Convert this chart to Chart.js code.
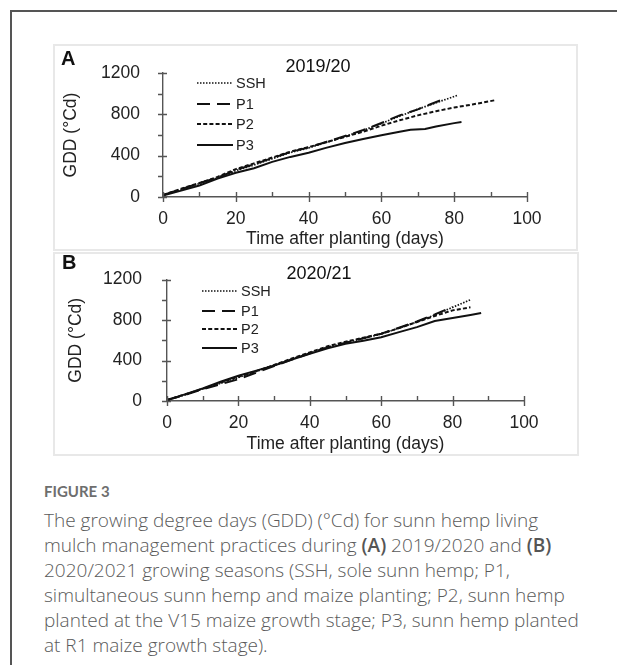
<!DOCTYPE html>
<html>
<head>
<meta charset="utf-8">
<script src="https://cdn.jsdelivr.net/npm/chart.js@4.4.1/dist/chart.umd.min.js"></script>
<style>
  html, body { margin:0; padding:0; background:#fff; }
  body { width:617px; height:666px; position:relative; overflow:hidden; }
  .frame { position:absolute; left:10px; top:10px; width:620px; height:655px;
           border-top:2px solid #555; border-left:2px solid #555; box-sizing:border-box; }
  .panel { position:absolute; box-shadow: inset 0 0 0 2px #e8e8e8; }
  .panel canvas { position:absolute; left:0; top:0; }
  .caphead { position:absolute; left:44px; top:481px; font-family:Lato, "Open Sans", sans-serif;
             font-size:15px; line-height:20px; color:#6e6e6e; font-weight:bold; }
  .cap { position:absolute; left:44px; top:508px; font-family:"Open Sans", Lato, sans-serif;
         font-size:19px; line-height:25px; color:#5a5a5a; white-space:nowrap; font-weight:300; }
  .cap b { color:#555; font-weight:600; }
</style>
</head>
<body>
<div class="frame"></div>
<div class="panel" id="pA" style="left:53px;top:44px;width:525px;height:207px;"><canvas id="cA" width="525" height="207"></canvas></div>
<div class="panel" id="pB" style="left:53px;top:252px;width:526px;height:204px;"><canvas id="cB" width="526" height="204"></canvas></div>
<div class="caphead">FIGURE 3</div>
<div class="cap">The growing degree days (GDD) (°Cd) for sunn hemp living<br>mulch management practices during <b>(A)</b> 2019/2020 and <b>(B)</b><br>2020/2021 growing seasons (SSH, sole sunn hemp; P1,<br>simultaneous sunn hemp and maize planting; P2, sunn hemp<br>planted at the V15 maize growth stage; P3, sunn hemp planted<br>at R1 maize growth stage).</div>
<script>
// ---------- DATA ----------
const seriesLabels = ['SSH', 'P1', 'P2', 'P3'];
const yTickValues = [0, 200, 400, 600, 800, 1000, 1200];
const yTickLabels = ['0', '', '400', '', '800', '', '1200'];
const xTickValues = [0, 10, 20, 30, 40, 50, 60, 70, 80, 90, 100];
const xTickLabels = ['0', '', '20', '', '40', '', '60', '', '80', '', '100'];

// Panel A: 2019/20
const daysA_SSH = [0, 5, 10, 15, 20, 25, 30, 35, 40, 45, 50, 55, 60, 65, 70, 75, 81];
const gddA_SSH  = [20, 70, 130, 185, 255, 310, 370, 430, 475, 530, 585, 645, 712, 782, 850, 912, 985];
const daysA_P1  = [0, 5, 10, 15, 20, 25, 30, 35, 40, 45, 50, 55, 60, 65, 70, 74, 77];
const gddA_P1   = [20, 75, 135, 185, 262, 316, 376, 436, 480, 535, 590, 648, 716, 790, 848, 905, 945];
const daysA_P2  = [0, 5, 10, 15, 20, 25, 30, 35, 40, 45, 50, 55, 60, 65, 70, 75, 80, 85, 91];
const gddA_P2   = [20, 80, 135, 195, 270, 325, 382, 438, 482, 532, 582, 632, 690, 742, 790, 830, 866, 895, 935];
const daysA_P3  = [0, 5, 10, 15, 20, 25, 30, 35, 40, 45, 50, 55, 60, 65, 68, 72, 75, 80, 82];
const gddA_P3   = [15, 62, 112, 178, 235, 278, 340, 388, 428, 478, 522, 562, 598, 632, 650, 658, 682, 715, 725];

// Panel B: 2020/21
const daysB_SSH = [0, 5, 10, 15, 20, 25, 30, 35, 40, 45, 50, 55, 60, 65, 70, 75, 80, 85];
const gddB_SSH  = [10, 60, 120, 175, 232, 292, 352, 415, 475, 530, 575, 618, 662, 720, 780, 850, 925, 1000];
const daysB_P1  = [0, 5, 10, 15, 20, 25, 30, 35, 40, 45, 50, 55, 60, 65, 70, 75, 80];
const gddB_P1   = [10, 60, 115, 165, 215, 280, 345, 410, 470, 530, 575, 620, 665, 725, 785, 855, 930];
const daysB_P2  = [0, 5, 10, 15, 20, 25, 30, 35, 40, 45, 50, 55, 60, 65, 70, 75, 80, 85];
const gddB_P2   = [10, 65, 120, 180, 240, 295, 355, 420, 480, 540, 585, 625, 665, 720, 780, 840, 895, 925];
const daysB_P3  = [0, 5, 10, 15, 20, 25, 30, 35, 40, 45, 50, 55, 60, 65, 70, 75, 80, 85, 88];
const gddB_P3   = [10, 65, 125, 190, 250, 300, 350, 410, 465, 520, 565, 595, 630, 680, 730, 790, 820, 850, 870];

// ---------- STYLE ----------
const FONT = '"Liberation Sans", Arial, Helvetica, sans-serif';
const styles = [
  { borderDash: [1.5, 1.5], borderWidth: 1.7 },
  { borderDash: [13, 7],   borderWidth: 2 },
  { borderDash: [4, 2.2],  borderWidth: 2 },
  { borderDash: [],        borderWidth: 2 }
];

function pairs(xs, ys) { return xs.map((x, i) => ({ x: x, y: ys[i] })); }

function makeDatasets(list) {
  return list.map((s, i) => ({
    label: seriesLabels[i],
    data: pairs(s[0], s[1]),
    borderColor: '#111',
    backgroundColor: '#111',
    borderWidth: styles[i].borderWidth,
    borderDash: styles[i].borderDash,
    pointRadius: 0,
    tension: 0,
    fill: false
  }));
}

const decor = {
  id: 'decor',
  afterDraw(chart, args, o) {
    const ctx = chart.ctx;
    const xs = chart.scales.x, ys = chart.scales.y;
    const ca = chart.chartArea;
    ctx.save();
    ctx.strokeStyle = '#555';
    ctx.lineWidth = 1.4;
    ctx.setLineDash([]);
    ctx.beginPath();
    yTickValues.forEach((v, i) => {
      const py = Math.round(ys.getPixelForValue(v)) + 0.5;
      const major = yTickLabels[i] !== '';
      ctx.moveTo(ca.left - 5, py);
      ctx.lineTo(ca.left + (major ? 4 : 0), py);
    });
    xTickValues.forEach((v, i) => {
      const px = Math.round(xs.getPixelForValue(v)) + 0.5;
      const major = xTickLabels[i] !== '';
      ctx.moveTo(px, ca.bottom - 5);
      ctx.lineTo(px, ca.bottom + (major ? 5 : 0));
    });
    ctx.stroke();

    // panel letter
    ctx.fillStyle = '#111';
    ctx.font = 'bold 20px ' + FONT;
    ctx.textBaseline = 'middle';
    ctx.textAlign = 'left';
    ctx.fillText(o.letter, o.letterX, o.letterY);
    // season title
    ctx.font = '18px ' + FONT;
    ctx.textAlign = 'center';
    ctx.fillText(o.title, o.titleX, o.titleY);

    // legend inside plot
    ctx.font = '14.5px ' + FONT;
    ctx.textAlign = 'left';
    chart.data.datasets.forEach((ds, i) => {
      const y = o.legY[i];
      ctx.save();
      ctx.strokeStyle = '#111';
      ctx.lineWidth = ds.borderWidth;
      ctx.setLineDash(ds.borderDash);
      ctx.beginPath();
      ctx.moveTo(o.legX1, y);
      ctx.lineTo(o.legX2, y);
      ctx.stroke();
      ctx.restore();
      ctx.fillStyle = '#222';
      ctx.fillText(ds.label, o.legTextX, y + 1);
    });
    ctx.restore();
  }
};

function makeChart(id, datasets, cfg) {
  return new Chart(document.getElementById(id), {
    type: 'line',
    data: { datasets: datasets },
    plugins: [decor],
    options: {
      responsive: false,
      animation: false,
      devicePixelRatio: 1,
      layout: { padding: { top: cfg.padTop, right: cfg.padRight, left: 0, bottom: 0 } },
      plugins: {
        legend: { display: false },
        title: { display: false },
        tooltip: { enabled: false },
        decor: cfg.decor
      },
      scales: {
        x: {
          type: 'linear', min: 0, max: 100,
          afterFit: s => { s.height = cfg.xH; },
          afterBuildTicks: s => { s.ticks = xTickValues.map(v => ({ value: v })); },
          grid: { display: false },
          border: { display: true, color: '#555', width: 1.4 },
          ticks: {
            autoSkip: false, maxRotation: 0, padding: cfg.xPad, color: '#222',
            font: { family: FONT, size: 17.5 },
            callback: (v) => { const i = xTickValues.indexOf(v); return i >= 0 ? xTickLabels[i] : ''; }
          },
          title: { display: true, text: 'Time after planting (days)', color: '#222',
                   font: { family: FONT, size: 17.5 }, padding: { top: 0, bottom: cfg.xTitlePad } }
        },
        y: {
          type: 'linear', min: 0, max: 1200,
          afterFit: s => { s.width = cfg.yW; },
          afterBuildTicks: s => { s.ticks = yTickValues.map(v => ({ value: v })); },
          grid: { display: false },
          border: { display: true, color: '#555', width: 1.4 },
          ticks: {
            autoSkip: false, padding: cfg.yPad, color: '#222',
            font: { family: FONT, size: 17.5 },
            callback: (v) => { const i = yTickValues.indexOf(v); return i >= 0 ? yTickLabels[i] : ''; }
          },
          title: { display: true, text: 'GDD (°Cd)', color: '#222',
                   font: { family: FONT, size: 17.5 }, padding: { top: cfg.yTitlePad, bottom: 0 } }
        }
      }
    }
  });
}

makeChart('cA', makeDatasets([[daysA_SSH, gddA_SSH], [daysA_P1, gddA_P1], [daysA_P2, gddA_P2], [daysA_P3, gddA_P3]]), {
  padTop: 29, padRight: 51, xH: 54, yW: 110, xPad: 4, yPad: 15, xTitlePad: 1, yTitlePad: 8,
  decor: { letter: 'A', letterX: 8, letterY: 15, title: '2019/20', titleX: 265, titleY: 23,
           legX1: 144, legX2: 180, legTextX: 183, legY: [39, 60, 80, 101] }
});
makeChart('cB', makeDatasets([[daysB_SSH, gddB_SSH], [daysB_P1, gddB_P1], [daysB_P2, gddB_P2], [daysB_P3, gddB_P3]]), {
  padTop: 24, padRight: 55, xH: 55, yW: 114, xPad: 4, yPad: 17, xTitlePad: 1, yTitlePad: 13,
  decor: { letter: 'B', letterX: 9, letterY: 11, title: '2020/21', titleX: 266, titleY: 22,
           legX1: 149, legX2: 184, legTextX: 188, legY: [39, 59, 77, 96] }
});
</script>
</body>
</html>
